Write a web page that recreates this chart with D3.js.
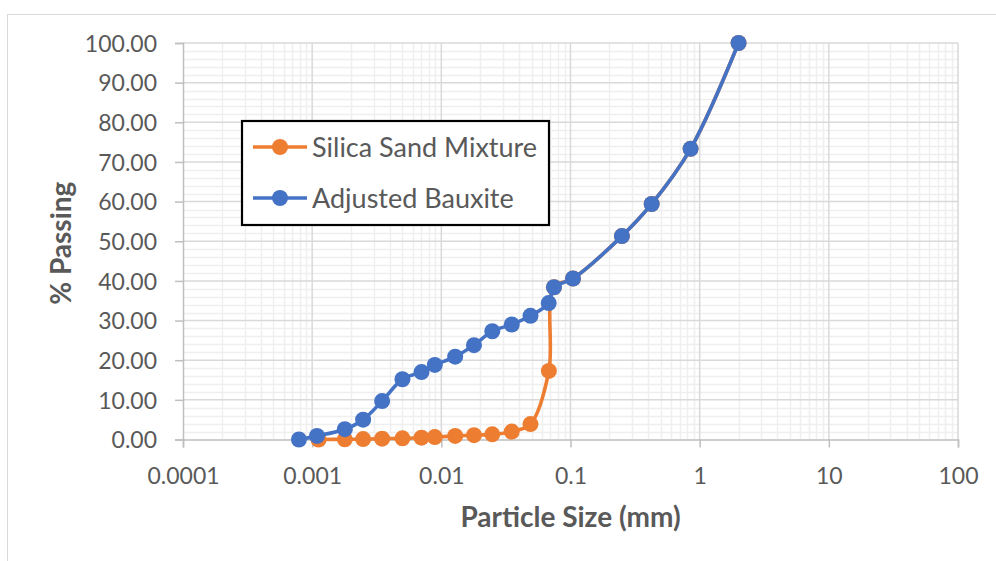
<!DOCTYPE html>
<html>
<head>
<meta charset="utf-8">
<style>
  body { margin: 0; background: #fff; }
  svg { display: block; }
  text { font-family: Lato, "Open Sans", sans-serif; fill: #595959; }
</style>
</head>
<body>
<script src="https://cdn.jsdelivr.net/npm/d3@7"></script>
<script>
// Particle size (mm) and % passing
const bauxiteSize = [0.00079, 0.00109, 0.00179, 0.00248, 0.00348, 0.005, 0.00702, 0.0089, 0.0128, 0.0179,
  0.0248, 0.0351, 0.049, 0.0678, 0.0745, 0.1045, 0.25, 0.425, 0.85, 2.0]
const bauxitePassing = [0, 0.9, 2.6, 5.0, 9.7, 15.2, 17.0, 18.8, 20.9, 23.8,
  27.3, 29.0, 31.2, 34.4, 38.4, 40.6, 51.3, 59.4, 73.3, 100]

const silicaSize = [0.00112, 0.00179, 0.00248, 0.00348, 0.005, 0.00702, 0.0089, 0.0128, 0.0179, 0.0248,
  0.0351, 0.049, 0.068, 0.0745, 0.1045, 0.25, 0.425, 0.85, 2.0]
const silicaPassing = [0, 0.05, 0.1, 0.2, 0.3, 0.45, 0.6, 0.9, 1.1, 1.3,
  2.0, 3.9, 17.3, 38.4, 40.6, 51.3, 59.4, 73.3, 100]

const xTicks = [0.0001, 0.001, 0.01, 0.1, 1, 10, 100]
const xTickLabels = ['0.0001', '0.001', '0.01', '0.1', '1', '10', '100']
const yTicks = [0, 10, 20, 30, 40, 50, 60, 70, 80, 90, 100]

const series = [
  { name: 'Silica Sand Mixture', color: '#ED7D31', x: silicaSize, y: silicaPassing },
  { name: 'Adjusted Bauxite', color: '#4472C4', x: bauxiteSize, y: bauxitePassing },
]

const width = 996, height = 561
const m = { left: 183, right: 958, top: 43, bottom: 439.5 }

const x = d3.scaleLog().domain([0.0001, 100]).range([m.left, m.right])
const y = d3.scaleLinear().domain([0, 100]).range([m.bottom, m.top])

const svg = d3.select('body').append('svg')
  .attr('width', width)
  .attr('height', height)

// chart border
svg.append('rect')
  .attr('x', 7.5).attr('y', 14.5)
  .attr('width', 1000).attr('height', 600)
  .attr('fill', '#fff')
  .attr('stroke', '#d9d9d9')

// minor gridlines
const minorX = []
for (let e = -4; e < 2; e++)
  for (let k = 2; k <= 9; k++) minorX.push(k * Math.pow(10, e))
const minorY = d3.range(0, 101, 2).filter(v => v % 10)

const grid = svg.append('g')
grid.selectAll('line.mx').data(minorX).join('line')
  .attr('x1', d => Math.round(x(d)) + 0.5).attr('x2', d => Math.round(x(d)) + 0.5)
  .attr('y1', m.top).attr('y2', m.bottom)
  .attr('stroke', '#efefef').attr('stroke-width', 1.5)
grid.selectAll('line.my').data(minorY).join('line')
  .attr('y1', d => Math.round(y(d)) + 0.5).attr('y2', d => Math.round(y(d)) + 0.5)
  .attr('x1', m.left).attr('x2', m.right)
  .attr('stroke', '#efefef').attr('stroke-width', 1.5)

// major gridlines
grid.selectAll('line.gx').data(xTicks.slice(1)).join('line')
  .attr('x1', d => x(d)).attr('x2', d => x(d))
  .attr('y1', m.top).attr('y2', m.bottom)
  .attr('stroke', '#d9d9d9').attr('stroke-width', 1.5)
grid.selectAll('line.gy').data(yTicks.slice(1)).join('line')
  .attr('y1', d => y(d)).attr('y2', d => y(d))
  .attr('x1', m.left).attr('x2', m.right)
  .attr('stroke', '#d9d9d9').attr('stroke-width', 1.5)

// axes
const xAxis = svg.append('g')
  .attr('transform', `translate(0,${m.bottom})`)
  .call(d3.axisBottom(x).tickValues(xTicks).tickFormat((d, i) => xTickLabels[i]).tickSize(8).tickPadding(20))
const yAxis = svg.append('g')
  .attr('transform', `translate(${m.left},0)`)
  .call(d3.axisLeft(y).tickValues(yTicks).tickFormat(d3.format('.2f')).tickSize(8).tickPadding(18))

for (const ax of [xAxis, yAxis]) {
  ax.select('.domain').attr('stroke', '#bfbfbf').attr('stroke-width', 1.5)
  ax.selectAll('.tick line').attr('stroke', '#bfbfbf').attr('stroke-width', 1.5)
  ax.selectAll('.tick text')
    .attr('font-family', 'Lato, "Open Sans", sans-serif')
    .attr('font-size', 23)
    .attr('fill', '#595959')
}
yAxis.selectAll('.tick text').attr('dy', '0.36em')
xAxis.selectAll('.tick text').attr('dy', '0.71em')

// axis titles
svg.append('text')
  .attr('x', (m.left + m.right) / 2).attr('y', 527)
  .attr('text-anchor', 'middle')
  .attr('font-size', 28).attr('font-weight', 'bold')
  .text('Particle Size (mm)')
svg.append('text')
  .attr('transform', `translate(71,${(m.top + m.bottom) / 2 + 2}) rotate(-90)`)
  .attr('text-anchor', 'middle')
  .attr('font-size', 28).attr('font-weight', 'bold')
  .text('% Passing')

// lines and markers
const line = d3.line()
  .x(d => x(d[0]))
  .y(d => y(d[1]))
  .curve(d3.curveCatmullRom.alpha(0.5))

for (const s of series) {
  const pts = s.x.map((v, i) => [v, s.y[i]])
  const g = svg.append('g')
  g.append('path')
    .attr('d', line(pts))
    .attr('fill', 'none')
    .attr('stroke', s.color)
    .attr('stroke-width', 3.6)
  g.selectAll('circle').data(pts).join('circle')
    .attr('cx', d => x(d[0])).attr('cy', d => y(d[1]))
    .attr('r', 8)
    .attr('fill', s.color)
}

// legend
const legend = svg.append('g')
legend.append('rect')
  .attr('x', 242).attr('y', 121)
  .attr('width', 307).attr('height', 104)
  .attr('fill', '#fff')
  .attr('stroke', '#000').attr('stroke-width', 2.2)
series.forEach((s, i) => {
  const ly = 147 + i * 51
  legend.append('line')
    .attr('x1', 253).attr('x2', 307)
    .attr('y1', ly).attr('y2', ly)
    .attr('stroke', s.color).attr('stroke-width', 3.6)
  legend.append('circle')
    .attr('cx', 280).attr('cy', ly).attr('r', 8)
    .attr('fill', s.color)
  legend.append('text')
    .attr('x', 312).attr('y', ly)
    .attr('dy', '0.36em')
    .attr('font-size', 27)
    .text(s.name)
})
</script>
</body>
</html>
